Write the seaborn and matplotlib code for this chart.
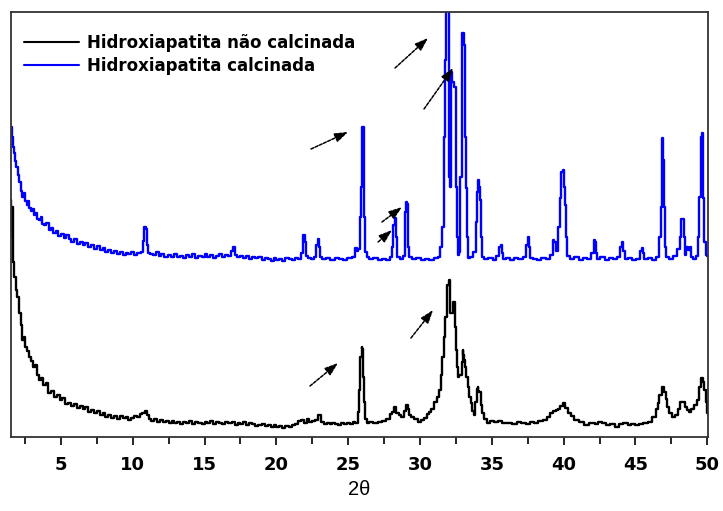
import seaborn as sns
import matplotlib.pyplot as plt
import pandas as pd
from matplotlib.ticker import MultipleLocator

# calcined hydroxyapatite (blue), 2theta vs intensity (arbitrary, offset)
theta_calc = [1.52, 1.60, 1.66, 1.75, 1.85, 1.94, 2.05, 2.15, 2.25, 2.35, 2.45, 2.55, 2.65, 2.75, 2.84,
              2.95, 3.05, 3.15, 3.30, 3.40, 3.54, 3.65, 3.75, 3.90, 4.05, 4.23, 4.40, 4.55, 4.70, 4.90,
              5.10, 5.30, 5.45, 5.63, 5.80, 6.00, 6.20, 6.40, 6.60, 6.80, 7.02, 7.20, 7.40, 7.60, 7.80,
              8.00, 8.20, 8.41, 8.60, 8.80, 9.00, 9.20, 9.40, 9.60, 9.80, 10.00, 10.20, 10.45, 10.65,
              10.75, 10.85, 10.95, 11.02, 11.10, 11.30, 11.50, 11.70, 11.90, 12.10, 12.30, 12.59, 12.80,
              13.00, 13.20, 13.40, 13.60, 13.80, 14.00, 14.20, 14.40, 14.68, 14.90, 15.10, 15.30, 15.50,
              15.70, 15.90, 16.10, 16.30, 16.50, 16.77, 16.95, 17.05, 17.15, 17.40, 17.60, 17.80, 18.00,
              18.20, 18.40, 18.60, 18.86, 19.10, 19.30, 19.50, 19.70, 19.90, 20.10, 20.30, 20.50, 20.75,
              20.95, 21.20, 21.40, 21.60, 21.80, 21.92, 22.00, 22.10, 22.30, 22.50, 22.70, 22.85, 22.92,
              23.00, 23.10, 23.30, 23.60, 23.90, 24.20, 24.50, 24.80, 25.10, 25.40, 25.55, 25.65, 25.75,
              25.85, 25.93, 25.98, 26.05, 26.10, 26.15, 26.22, 26.35, 26.60, 26.90, 27.20, 27.50, 27.80,
              28.00, 28.10, 28.20, 28.30, 28.38, 28.45, 28.70, 28.90, 29.00, 29.05, 29.15, 29.22, 29.30,
              29.60, 29.90, 30.20, 30.50, 30.80, 31.10, 31.35, 31.50, 31.58, 31.70, 31.74, 31.88, 31.98,
              32.02, 32.09, 32.14, 32.20, 32.30, 32.44, 32.52, 32.58, 32.65, 32.75, 32.85, 32.93, 32.97,
              33.05, 33.13, 33.20, 33.27, 33.33, 33.41, 33.60, 33.80, 33.95, 34.02, 34.06, 34.12, 34.18,
              34.25, 34.32, 34.60, 34.90, 35.20, 35.45, 35.58, 35.64, 35.72, 35.85, 36.10, 36.40, 36.70,
              37.00, 37.30, 37.45, 37.54, 37.62, 37.70, 38.00, 38.30, 38.60, 38.90, 39.20, 39.30, 39.40,
              39.50, 39.70, 39.80, 39.90, 39.98, 40.05, 40.12, 40.20, 40.30, 40.60, 40.90, 41.20, 41.50,
              41.80, 42.05, 42.15, 42.22, 42.30, 42.40, 42.70, 43.00, 43.30, 43.60, 43.90, 44.00, 44.09,
              44.18, 44.30, 44.60, 44.90, 45.20, 45.40, 45.48, 45.56, 45.70, 46.00, 46.30, 46.55, 46.70,
              46.80, 46.87, 46.94, 47.00, 47.10, 47.20, 47.50, 47.80, 48.05, 48.15, 48.25, 48.32, 48.40,
              48.50, 48.60, 48.70, 48.85, 48.95, 49.10, 49.30, 49.40, 49.50, 49.60, 49.68, 49.75, 49.85,
              49.95, 50.00]
int_calc = [310, 300, 290, 284, 276, 270, 262, 255, 246, 240, 244, 236, 232, 236, 229,
            226, 228, 222, 224, 218, 217, 220, 213, 212, 214, 207, 209, 204, 206, 201,
            203, 199, 202, 198, 195, 198, 193, 195, 192, 194, 190, 192, 188, 191, 187,
            189, 185, 187, 184, 186, 183, 185, 182, 184, 183, 185, 182, 184, 185,
            196, 210, 208, 192, 184, 183, 182, 185, 181, 183, 180, 182, 180,
            183, 180, 181, 179, 182, 180, 183, 179, 181, 180, 183, 180, 182,
            179, 181, 183, 180, 182, 181, 186, 190, 182, 180, 181, 179, 181,
            178, 180, 179, 180, 177, 179, 178, 176, 179, 177, 178, 176, 179,
            178, 177, 179, 178, 184, 202, 195, 181, 179, 178, 180, 192, 198,
            190, 180, 178, 179, 177, 179, 178, 177, 179, 180, 189, 186, 188,
            220, 250, 310, 310, 279, 220, 185, 180, 178, 179, 177, 178, 177,
            180, 190, 212, 219, 200, 180, 178, 181, 225, 235, 233, 190, 180,
            178, 179, 177, 178, 177, 179, 180, 190, 210, 300, 377, 430, 430,
            260, 364, 250, 365, 355, 350, 250, 200, 182, 185, 260, 330, 404,
            404, 392, 300, 249, 200, 179, 180, 185, 215, 245, 257, 250, 237,
            200, 180, 178, 179, 177, 181, 190, 192, 184, 178, 179, 177, 179,
            178, 180, 192, 200, 190, 179, 178, 177, 179, 178, 182, 197, 195,
            186, 210, 239, 265, 267, 250, 232, 200, 181, 178, 180, 177, 179,
            178, 184, 197, 195, 184, 178, 180, 177, 179, 178, 180, 190, 195,
            186, 178, 179, 177, 178, 186, 189, 184, 178, 179, 177, 180, 200,
            230, 299, 277, 230, 190, 180, 178, 181, 188, 200, 218, 218, 200,
            182, 190, 187, 190, 180, 178, 181, 200, 240, 300, 304, 239, 195,
            182, 181]

# non-calcined hydroxyapatite (black)
theta_raw = [1.52, 1.56, 1.60, 1.66, 1.72, 1.80, 1.94, 2.00, 2.15, 2.25, 2.35, 2.45, 2.55, 2.70, 2.84,
             2.95, 3.10, 3.25, 3.40, 3.54, 3.70, 3.85, 4.00, 4.23, 4.40, 4.60, 4.80, 5.00, 5.20, 5.40,
             5.63, 5.80, 6.00, 6.20, 6.40, 6.60, 6.80, 7.02, 7.20, 7.40, 7.60, 7.80, 8.00, 8.20, 8.41,
             8.60, 8.80, 9.00, 9.20, 9.40, 9.60, 9.80, 10.00, 10.20, 10.45, 10.60, 10.75, 10.90, 11.05,
             11.20, 11.40, 11.60, 11.80, 12.00, 12.20, 12.40, 12.60, 12.80, 13.00, 13.20, 13.40, 13.60,
             13.80, 14.00, 14.20, 14.40, 14.68, 14.90, 15.10, 15.30, 15.50, 15.70, 15.90, 16.10, 16.30,
             16.50, 16.77, 17.00, 17.20, 17.40, 17.60, 17.80, 18.00, 18.20, 18.40, 18.60, 18.86, 19.10,
             19.30, 19.50, 19.70, 19.90, 20.10, 20.30, 20.50, 20.75, 20.95, 21.20, 21.40, 21.60, 21.80,
             22.00, 22.20, 22.40, 22.60, 22.80, 23.04, 23.20, 23.40, 23.60, 23.80, 24.00, 24.20, 24.40,
             24.60, 24.80, 25.00, 25.20, 25.40, 25.60, 25.70, 25.80, 25.90, 25.96, 26.02, 26.08, 26.15,
             26.22, 26.35, 26.60, 26.90, 27.20, 27.50, 27.80, 28.00, 28.15, 28.28, 28.40, 28.61, 28.80,
             28.95, 29.09, 29.20, 29.30, 29.51, 29.70, 30.00, 30.20, 30.40, 30.55, 30.70, 30.90, 31.11,
             31.25, 31.39, 31.50, 31.60, 31.70, 31.81, 31.95, 32.02, 32.09, 32.15, 32.23, 32.30, 32.37,
             32.44, 32.51, 32.60, 32.67, 32.80, 32.86, 32.93, 32.99, 33.05, 33.13, 33.20, 33.27, 33.38,
             33.48, 33.60, 33.70, 33.81, 33.90, 34.00, 34.04, 34.10, 34.18, 34.28, 34.39, 34.55, 34.74,
             35.00, 35.30, 35.57, 35.90, 36.27, 36.60, 36.90, 37.20, 37.50, 37.80, 38.10, 38.40, 38.70,
             38.95, 39.15, 39.35, 39.52, 39.70, 39.85, 40.03, 40.20, 40.40, 40.60, 40.91, 41.20, 41.60,
             42.00, 42.30, 42.53, 42.80, 43.10, 43.40, 43.70, 44.00, 44.30, 44.60, 44.80, 45.09, 45.40,
             45.70, 46.02, 46.30, 46.50, 46.60, 46.75, 46.94, 47.05, 47.15, 47.29, 47.45, 47.64, 47.85,
             48.05, 48.20, 48.34, 48.50, 48.65, 48.80, 49.00, 49.20, 49.38, 49.50, 49.62, 49.75, 49.85,
             49.95, 50.00]
int_raw = [237, 200, 230, 189, 175, 160, 147, 140, 124, 112, 97, 100, 90, 86, 80,
           76, 70, 72, 62, 57, 59, 52, 54, 44, 46, 40, 42, 37, 39, 33,
           34, 31, 33, 29, 31, 28, 30, 25, 27, 24, 26, 22, 24, 20, 22,
           19, 21, 18, 21, 19, 20, 17, 19, 21, 20, 23, 24, 26, 22,
           18, 16, 18, 15, 17, 15, 16, 14, 16, 14, 15, 13, 15,
           14, 16, 13, 15, 14, 13, 15, 14, 16, 13, 15, 14, 13,
           15, 14, 15, 12, 14, 13, 15, 12, 14, 13, 11, 12, 13,
           11, 12, 10, 12, 10, 11, 9, 11, 10, 12, 13, 16, 17,
           14, 18, 15, 16, 17, 22, 15, 13, 14, 13, 14, 13, 12,
           14, 13, 14, 13, 15, 14, 25, 47, 80, 90, 88, 60, 35,
           18, 14, 15, 14, 15, 16, 18, 23, 25, 30, 24, 22, 20,
           26, 32, 28, 22, 20, 18, 15, 17, 19, 23, 25, 28, 35,
           40, 47, 62, 80, 100, 120, 152, 157, 140, 124, 124, 135, 135,
           110, 87, 70, 60, 62, 62, 75, 87, 82, 77, 70, 60, 50,
           40, 34, 26, 22, 35, 48, 50, 46, 45, 32, 24, 18, 14,
           16, 15, 16, 14, 14, 13, 15, 14, 13, 15, 14, 16, 17,
           20, 24, 26, 27, 28, 31, 34, 29, 24, 21, 17, 15, 12,
           14, 13, 15, 14, 12, 13, 10, 13, 14, 12, 13, 12, 13,
           14, 15, 20, 28, 34, 42, 50, 45, 38, 30, 24, 20, 22,
           28, 35, 35, 30, 27, 25, 28, 32, 37, 50, 59, 55, 47,
           35, 24]

labels = ['Hidroxiapatita não calcinada', 'Hidroxiapatita calcinada']
# arrows: (tail x, tail y, head x, head y) in data units
arrows = [(28.26, 369, 30.56, 399), (30.28, 328, 32.30, 369), (22.41, 288, 24.99, 305),
          (27.35, 215, 28.75, 230), (27.08, 195, 28.05, 207), (22.34, 51, 24.29, 74),
          (29.37, 99, 30.91, 127)]

df_raw = pd.DataFrame({'theta': theta_raw, 'I': int_raw})
df_calc = pd.DataFrame({'theta': theta_calc, 'I': int_calc})

sns.set_style('ticks')
plt.rcParams['font.family'] = ['Liberation Sans', 'DejaVu Sans']
plt.rcParams['text.color'] = 'black'
plt.rcParams['axes.labelcolor'] = 'black'
plt.rcParams['xtick.color'] = 'black'

fig = plt.figure(figsize=(7.23, 5.11), dpi=100)
ax = fig.add_axes([0.0152, 0.1448, 0.9640, 0.8317])

sns.lineplot(data=df_raw, x='theta', y='I', color='black', lw=1.7, label=labels[0], ax=ax,
             drawstyle='steps-mid')
sns.lineplot(data=df_calc, x='theta', y='I', color='#0000ff', lw=1.7, label=labels[1], ax=ax,
             drawstyle='steps-mid')

for x0, y0, x1, y1 in arrows:
    ax.annotate('', xy=(x1, y1), xytext=(x0, y0),
                arrowprops=dict(arrowstyle='-|>,head_length=0.8,head_width=0.28', color='black',
                                lw=1.1, ls=(0, (2, 1)), shrinkA=0, shrinkB=0))

ax.set_xlim(1.52, 50.05)
ax.set_ylim(0, 425)
ax.set_yticks([])
ax.set_ylabel('')
ax.xaxis.set_major_locator(MultipleLocator(5))
ax.xaxis.set_minor_locator(MultipleLocator(2.5))
ax.set_xticks(range(5, 51, 5))
ax.tick_params(axis='x', which='major', direction='out', length=6, width=1.2, labelsize=13, pad=8)
ax.tick_params(axis='x', which='minor', direction='out', length=5, width=1.2)
for lab in ax.get_xticklabels():
    lab.set_fontweight('bold')
    lab.set_family('DejaVu Sans')
ax.set_xlabel('2θ', fontsize=14.5, labelpad=4)
for sp in ax.spines.values():
    sp.set_visible(True)
    sp.set_linewidth(1.3)
    sp.set_color('#333333')

leg = ax.legend(loc='upper left', frameon=False,
                prop={'weight': 'bold', 'size': 12, 'family': 'DejaVu Sans'},
                handlelength=3.3, handletextpad=0.45, labelspacing=0.3,
                borderaxespad=0.2, bbox_to_anchor=(0.005, 0.972))
for line in leg.get_lines():
    line.set_linewidth(1.5)

fig.savefig('out.png', dpi=100)
